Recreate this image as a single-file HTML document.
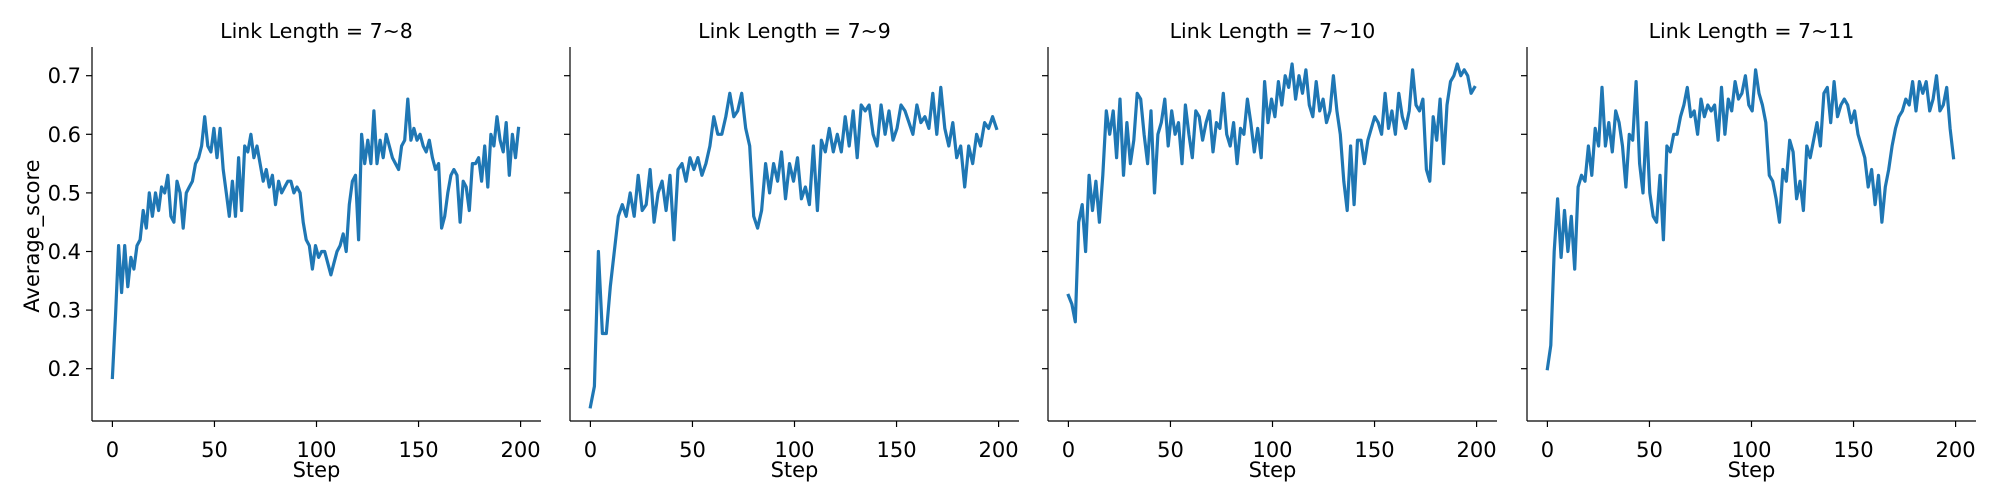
<!DOCTYPE html>
<html><head><meta charset="utf-8"><style>
body{margin:0;background:#fff;}
svg{display:block;font-family:"DejaVu Sans","Liberation Sans",sans-serif;}
</style></head><body>
<svg id="chart" width="2000" height="500" viewBox="0 0 2000 500"></svg>
<script>
const titles = ["Link Length = 7~8","Link Length = 7~9","Link Length = 7~10","Link Length = 7~11"];
const xTicks = [0,50,100,150,200];
const yTicks = [0.2,0.3,0.4,0.5,0.6,0.7];
const s1 = [0.185,0.29,0.41,0.33,0.41,0.34,0.39,0.37,0.41,0.42,0.47,0.44,0.50,0.46,0.50,0.47,0.51,0.50,0.53,0.46,0.45,0.52,0.50,0.44,0.50,0.51,0.52,0.55,0.56,0.58,0.63,0.58,0.57,0.61,0.56,0.61,0.54,0.50,0.46,0.52,0.46,0.56,0.47,0.58,0.57,0.60,0.56,0.58,0.55,0.52,0.54,0.51,0.53,0.48,0.52,0.50,0.51,0.52,0.52,0.50,0.51,0.50,0.45,0.42,0.41,0.37,0.41,0.39,0.40,0.40,0.38,0.36,0.38,0.40,0.41,0.43,0.40,0.48,0.52,0.53,0.42,0.60,0.55,0.59,0.55,0.64,0.55,0.59,0.56,0.60,0.58,0.56,0.55,0.54,0.58,0.59,0.66,0.59,0.61,0.59,0.60,0.58,0.57,0.59,0.56,0.54,0.55,0.44,0.46,0.50,0.53,0.54,0.53,0.45,0.52,0.51,0.47,0.55,0.55,0.56,0.52,0.58,0.51,0.60,0.58,0.63,0.59,0.57,0.62,0.53,0.60,0.56,0.61];
const s2 = [0.135,0.17,0.40,0.26,0.26,0.34,0.40,0.46,0.48,0.46,0.50,0.46,0.53,0.47,0.48,0.54,0.45,0.50,0.52,0.47,0.53,0.42,0.54,0.55,0.52,0.56,0.54,0.56,0.53,0.55,0.58,0.63,0.60,0.60,0.63,0.67,0.63,0.64,0.67,0.61,0.58,0.46,0.44,0.47,0.55,0.50,0.55,0.52,0.57,0.49,0.55,0.52,0.56,0.49,0.51,0.48,0.58,0.47,0.59,0.57,0.61,0.57,0.60,0.57,0.63,0.58,0.64,0.56,0.65,0.64,0.65,0.60,0.58,0.65,0.60,0.64,0.59,0.61,0.65,0.64,0.62,0.60,0.65,0.62,0.63,0.61,0.67,0.60,0.68,0.61,0.58,0.62,0.56,0.58,0.51,0.58,0.55,0.60,0.58,0.62,0.61,0.63,0.61];
const s3 = [0.325,0.31,0.28,0.45,0.48,0.40,0.53,0.47,0.52,0.45,0.53,0.64,0.60,0.64,0.56,0.66,0.53,0.62,0.55,0.59,0.67,0.66,0.60,0.55,0.64,0.50,0.60,0.62,0.66,0.58,0.64,0.60,0.62,0.55,0.65,0.60,0.56,0.64,0.63,0.59,0.62,0.64,0.57,0.62,0.61,0.67,0.60,0.58,0.62,0.55,0.61,0.60,0.66,0.62,0.57,0.61,0.56,0.69,0.62,0.66,0.63,0.69,0.65,0.70,0.68,0.72,0.66,0.70,0.67,0.71,0.65,0.63,0.69,0.64,0.66,0.62,0.64,0.70,0.64,0.60,0.52,0.47,0.58,0.48,0.59,0.59,0.55,0.59,0.61,0.63,0.62,0.60,0.67,0.61,0.64,0.60,0.67,0.63,0.61,0.64,0.71,0.65,0.64,0.66,0.54,0.52,0.63,0.59,0.66,0.55,0.65,0.69,0.70,0.72,0.70,0.71,0.70,0.67,0.68];
const s4 = [0.20,0.24,0.40,0.49,0.39,0.47,0.40,0.46,0.37,0.51,0.53,0.52,0.58,0.53,0.61,0.58,0.68,0.58,0.62,0.57,0.64,0.62,0.58,0.51,0.60,0.59,0.69,0.55,0.50,0.62,0.50,0.46,0.45,0.53,0.42,0.58,0.57,0.60,0.60,0.63,0.65,0.68,0.63,0.64,0.60,0.66,0.63,0.65,0.64,0.65,0.59,0.68,0.60,0.66,0.64,0.69,0.66,0.67,0.70,0.65,0.64,0.71,0.67,0.65,0.62,0.53,0.52,0.49,0.45,0.54,0.52,0.59,0.57,0.49,0.52,0.47,0.58,0.56,0.59,0.62,0.58,0.67,0.68,0.62,0.69,0.63,0.65,0.66,0.65,0.62,0.64,0.60,0.58,0.56,0.51,0.54,0.48,0.53,0.45,0.51,0.54,0.58,0.61,0.63,0.64,0.66,0.65,0.69,0.64,0.69,0.67,0.69,0.64,0.66,0.70,0.64,0.65,0.68,0.61,0.56];
const series = [s1,s2,s3,s4];
const maxStep = 199;

const NS = "http://www.w3.org/2000/svg";
const svgEl = document.getElementById('chart');
const panelLefts = [92,570,1048,1527];
const panelW = 449, plotTop = 47, plotBottom = 421;
function mk(tag, attrs, parent){const e=document.createElementNS(NS,tag);for(const k in attrs)e.setAttribute(k,attrs[k]);parent.appendChild(e);return e;}
function yScale(v){return 75.7 + (0.7 - v) * 586;}

series.forEach((data, p) => {
  const left = panelLefts[p];
  const xScale = s => left + (s + 10) / 220 * panelW;
  const g = mk('g', {}, svgEl);
  
  
  const t = mk('text', {x: left + panelW/2, y: 38, 'font-size': 20.5, 'text-anchor': 'middle', fill: '#000'}, g);
  
  
  t.textContent = titles[p];
  const pts = data.map((v, i) => xScale(i * maxStep / (data.length - 1)).toFixed(1) + ',' + yScale(v).toFixed(1)).join(' ');
  const line = mk('polyline', {points: pts, fill: 'none', stroke: '#1f77b4', 'stroke-width': 3.2, 'stroke-linejoin': 'round', 'stroke-linecap': 'square'}, g);
  
  
  const ax = mk('g', {}, g);
  
  
  mk('line', {x1: left, y1: plotTop, x2: left, y2: plotBottom, stroke: '#000', 'stroke-width': 1.2}, ax);
  mk('line', {x1: left, y1: plotBottom, x2: left + panelW, y2: plotBottom, stroke: '#000', 'stroke-width': 1.2}, ax);
  xTicks.forEach(tv => {
    const x = xScale(tv);
    mk('line', {x1: x, y1: plotBottom, x2: x, y2: plotBottom + 6, stroke: '#000', 'stroke-width': 1.2}, ax);
    const tl = mk('text', {x: x, y: 457, 'font-size': 21, 'text-anchor': 'middle', fill: '#000'}, ax);
    
    
    tl.textContent = tv;
  });
  yTicks.forEach(tv => {
    const y = yScale(tv);
    mk('line', {x1: left - 6, y1: y, x2: left, y2: y, stroke: '#000', 'stroke-width': 1.2}, ax);
    if (p === 0) {
      const tl = mk('text', {x: left - 11, y: y + 7.5, 'font-size': 21, 'text-anchor': 'end', fill: '#000'}, ax);
      
      
      tl.textContent = tv.toFixed(1);
    }
  });
  const xl = mk('text', {x: left + panelW/2, y: 477, 'font-size': 21, 'text-anchor': 'middle', fill: '#000'}, g);
  
  
  xl.textContent = 'Step';
});
const yl = mk('text', {x: 0, y: 0, 'font-size': 21, 'text-anchor': 'middle', fill: '#000', transform: 'translate(39,236) rotate(-90)'}, svgEl);


yl.textContent = 'Average_score';
</script>
</body></html>
